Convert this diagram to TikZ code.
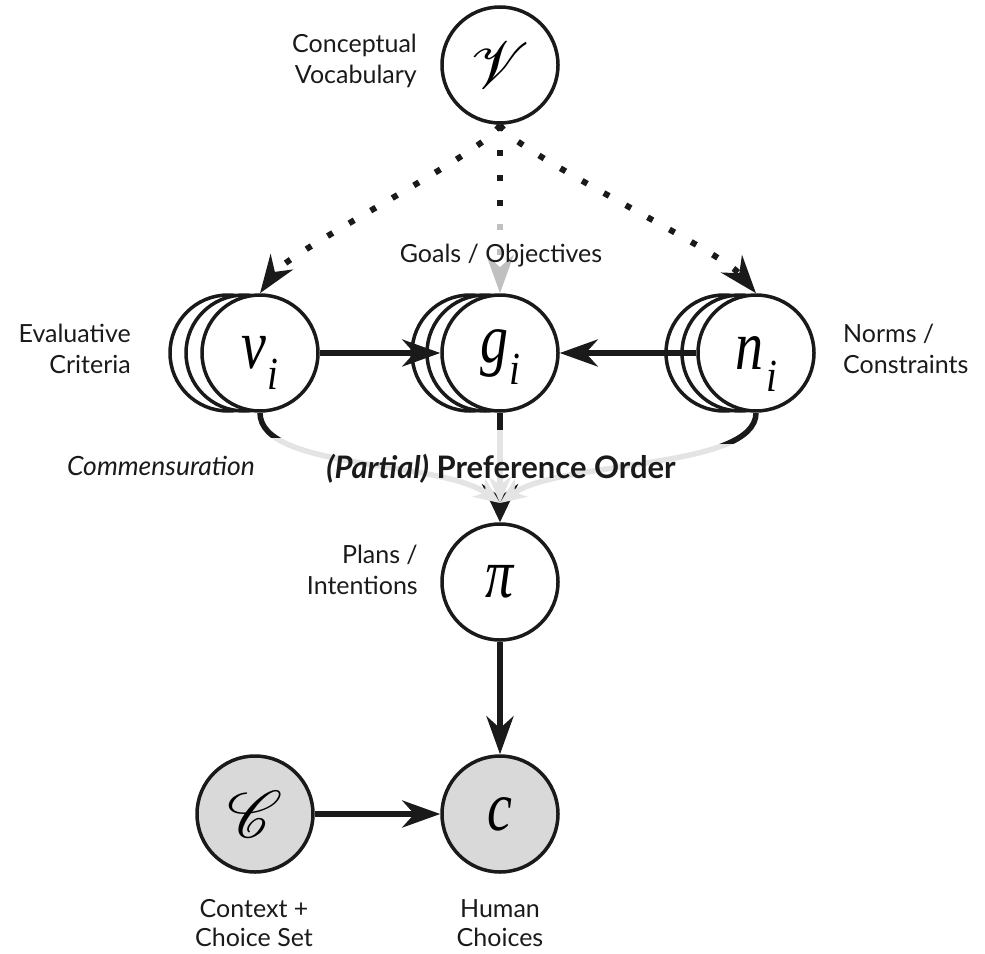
\documentclass[tikz,border=0pt]{standalone}
\usepackage{amsmath}
\usepackage{mathrsfs}
\usepackage{graphicx}
\usepackage{fontspec}
\setmainfont{Lato}
\newfontfamily\mathlike{Liberation Serif}
\usetikzlibrary{arrows.meta}
\definecolor{ink}{HTML}{1A1A1A}
\definecolor{fillg}{HTML}{D9D9D9}
\definecolor{dotg}{HTML}{C0C0C0}
\definecolor{curveg}{HTML}{E4E4E4}
\newcommand\lblfont{\fontsize{25}{30.5}\selectfont}
\newcommand\bigscr[1]{\scalebox{2.65}{\fontsize{24.88}{25}\selectfont$\mathscr{#1}$}}
\newcommand\mletter[1]{\scalebox{0.8}[1]{\mathlike\itshape\fontsize{70}{70}\selectfont #1}}
\newcommand\subi[1]{\raisebox{#1}[0pt][0pt]{\scalebox{0.85}[1]{\mathlike\itshape\fontsize{46}{46}\selectfont i}}}
\begin{document}
\begin{tikzpicture}[x=1pt,y=-1pt,
  state/.style={circle, draw=ink, line width=3.5pt, minimum size=116pt, inner sep=0pt, fill=white},
  obs/.style={state, fill=fillg},
  tip/.style={-{Stealth[length=38pt,width=27pt,inset=12pt]}},
  conn/.style={draw=ink, line width=5.5pt, tip},
  dots/.style={draw=ink, line width=6pt, dash pattern=on 6pt off 19pt},
  curve/.style={draw=curveg, line width=5.5pt, -{Stealth[length=26pt,width=22pt,inset=8pt]}},
  lbl/.style={font=\lblfont, inner sep=0pt, text=ink}]
\useasboundingbox (0,0) rectangle (985,953);
% nodes
\node[state] (V) at (500,65) {\bigscr{V}};
\node[state] (v3) at (228,353) {};
\node[state] (v2) at (244,353) {};
\node[state] (v) at (260,353) {\mletter{v}\kern2pt\subi{-21pt}};
\node[state] (g3) at (470,353) {};
\node[state] (g2) at (485,353) {};
\node[state] (g) at (500,353) {\mletter{g}\kern1pt\subi{-22pt}};
\node[state] (n3) at (724,353) {};
\node[state] (n2) at (740,353) {};
\node[state] (n) at (756,353) {\mletter{n}\kern3pt\subi{-22pt}};
\node[state] (pi) at (500,582) {\mletter{π}};
\node[obs] (C) at (255,814) {\bigscr{C}};
\node[obs] (c) at (500,814) {\mletter{c}};
% dotted arrows from V
\draw[dots] (V.south) -- (500,212);
\draw[dots, draw=dotg, -{Stealth[length=38pt,width=27pt,inset=12pt]}] (500,224) -- (g.north);
\draw[dots, tip] (V.south) .. controls (490,150) and (290,250) .. (v.north);
\draw[dots, tip] (V.south) .. controls (510,150) and (720,250) .. (n.north);
% horizontal arrows
\draw[conn] (v) -- (g.west);
\draw[conn] (n.west) -- (g.east);
% preference order curves
\coordinate (pm) at (500,503);
\draw[draw=ink, line width=5.5pt, -{Stealth[length=38pt,width=36pt,inset=12pt]}] (500,484) -- (pi.north);
\draw[curve] (v.south) .. controls (260,470) and (440,460) .. (pm);
\draw[curve] (g.south) -- (pm);
\draw[curve] (n.south) .. controls (756,470) and (560,460) .. (pm);
\begin{scope}
  \clip (0,0) rectangle (985,437);
  \draw[draw=ink, line width=5.5pt] (v.south) .. controls (260,470) and (440,460) .. (pm);
\end{scope}
\begin{scope}
  \clip (0,0) rectangle (985,429);
  \draw[draw=ink, line width=5.5pt] (g.south) -- (pm);
\end{scope}
\begin{scope}
  \clip (0,0) rectangle (985,443);
  \draw[draw=ink, line width=5.5pt] (n.south) .. controls (756,470) and (560,460) .. (pm);
\end{scope}
% lower arrows
\draw[conn] (pi) -- (c);
\draw[conn] (C) -- (c);
% labels
\node[lbl, anchor=north east, align=right] (lV) at (417,34) {Conceptual\\Vocabulary};
\node[lbl, anchor=base] (lG) at (501,262) {Goals / Objectives};
\node[lbl, anchor=north east, align=right] (lv) at (131,324) {Evaluative\\Criteria};
\node[lbl, anchor=north west, align=left] (ln) at (843,324) {Norms /\\Constraints};
\node[lbl, anchor=base, font=\fontsize{26.5}{30}\selectfont\itshape] (lcom) at (161,475) {Commensuration};
\node[lbl, anchor=base, font=\fontsize{31}{34}\selectfont] (lpo) at (501,478) {\bfseries{\itshape (Partial)} Preference Order};
\node[lbl, anchor=north east, align=right] (lpi) at (418,545) {Plans /\\Intentions};
\node[lbl, anchor=north, align=center, font=\fontsize{25}{29.5}\selectfont] (lC) at (254,899) {Context +\\Choice Set};
\node[lbl, anchor=north, align=center, font=\fontsize{25}{29.5}\selectfont] (lc) at (500,899) {Human\\Choices};
\end{tikzpicture}
\end{document}
